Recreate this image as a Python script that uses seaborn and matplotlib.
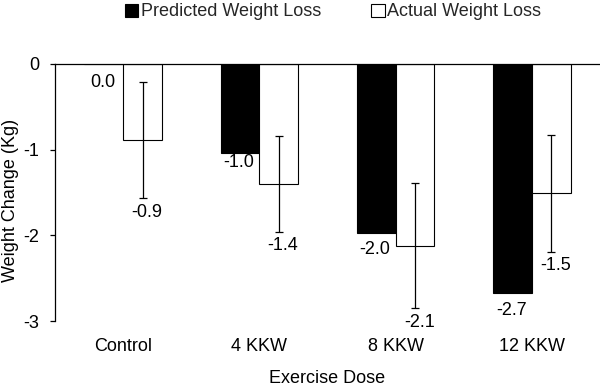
import matplotlib
matplotlib.use("Agg")
import matplotlib.pyplot as plt
import seaborn as sns
import pandas as pd
from matplotlib.patches import Patch

categories = ["Control", "4 KKW", "8 KKW", "12 KKW"]
series = ["Predicted Weight Loss", "Actual Weight Loss"]
predicted = [0.0, -1.04, -1.97, -2.67]
actual = [-0.89, -1.40, -2.12, -1.51]
actual_err = [0.68, 0.56, 0.73, 0.68]
yticks = [0, -1, -2, -3]

df = pd.DataFrame({
    "dose": categories * 2,
    "series": [series[0]] * 4 + [series[1]] * 4,
    "value": predicted + actual,
})

sns.set_theme(style="white")
plt.rcParams["font.family"] = ["Liberation Sans", "DejaVu Sans"]
plt.rcParams["axes.unicode_minus"] = False
FS = 13

fig, ax = plt.subplots(figsize=(6.0, 3.87), dpi=100)
fig.subplots_adjust(left=55/600, right=1.0, top=1-64/387, bottom=1-321/387)

sns.barplot(data=df, x="dose", y="value", hue="series", order=categories,
            hue_order=series, palette=["black", "white"], edgecolor="black",
            linewidth=0.8, width=0.57, errorbar=None, legend=False, ax=ax)

pred_x = [p.get_x() + p.get_width() / 2 for p in ax.containers[0]]
act_x = [p.get_x() + p.get_width() / 2 for p in ax.containers[1]]

ax.errorbar(act_x, actual, yerr=actual_err, fmt="none", ecolor="black",
            elinewidth=0.9, capsize=2.8, capthick=0.9, zorder=5)

pred_offsets = [-13, -7, -12, -13]
for x, v, off in zip(pred_x, predicted, pred_offsets):
    ax.annotate(f"{v:.1f}", (x, v), xytext=(-1, off), textcoords="offset points",
                ha="center", va="center", fontsize=FS, color="black")
for x, v, e in zip(act_x, actual, actual_err):
    ax.annotate(f"{v:.1f}", (x, v - e), xytext=(3, -10), textcoords="offset points",
                ha="center", va="center", fontsize=FS, color="black")

ax.set_ylim(-3, 0)
ax.set_xlim(-0.5, 3.5)
ax.set_yticks(yticks)
ax.set_yticklabels([str(t) for t in yticks])

for s in ["right", "bottom"]:
    ax.spines[s].set_visible(False)
for s in ["left", "top"]:
    ax.spines[s].set_visible(True)
    ax.spines[s].set_color("black")
    ax.spines[s].set_linewidth(0.9)

ax.tick_params(axis="y", direction="out", length=3.5, width=0.9, color="black",
               left=True, pad=8, labelsize=FS, labelcolor="black")
ax.tick_params(axis="x", length=0, pad=12, labelsize=FS, labelcolor="black")

ax.set_xlabel("Exercise Dose", fontsize=FS, color="black")
ax.xaxis.set_label_coords(0.5, -0.19)
ax.set_ylabel("Weight Change (Kg)", fontsize=FS, color="black")
ax.yaxis.set_label_coords(-0.066, 0.47)

handles = [Patch(facecolor="black", edgecolor="black", linewidth=0.8),
           Patch(facecolor="white", edgecolor="black", linewidth=0.8)]
fig.legend(handles, series, loc="center", bbox_to_anchor=(333/600, 1-12/387),
           ncol=2, frameon=False, fontsize=FS, handlelength=0.75, handleheight=0.75,
           handletextpad=0.12, columnspacing=2.8, borderaxespad=0)

fig.savefig("out.png", dpi=100, facecolor="white")
